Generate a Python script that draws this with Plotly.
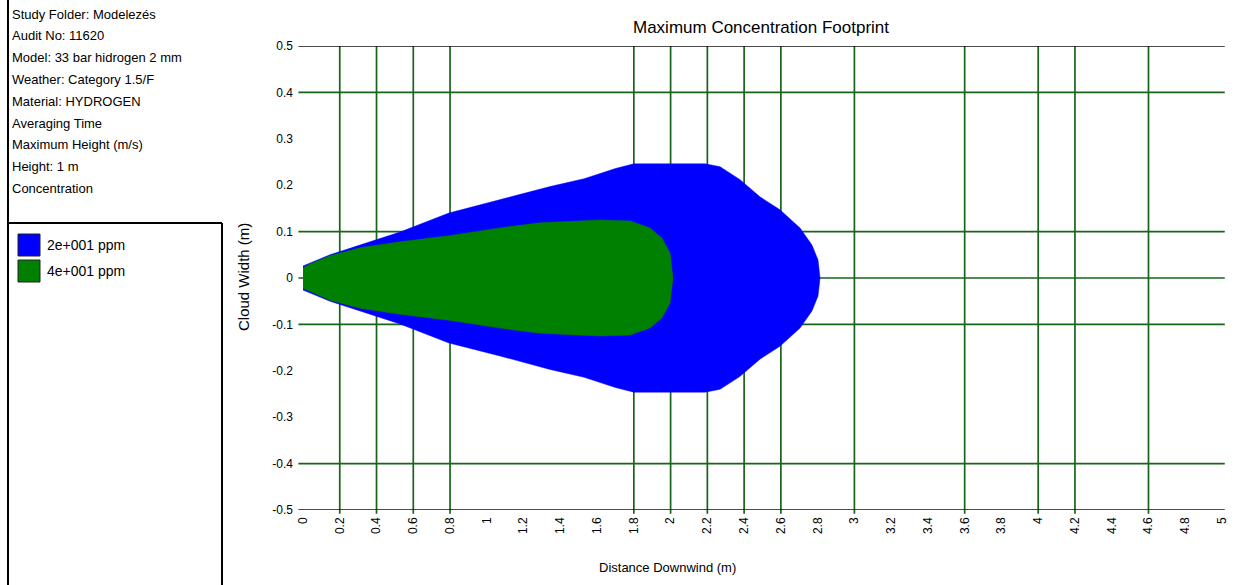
import plotly.graph_objects as go

# ---------------- data ----------------
info_lines = [
    "Study Folder: Modelezés",
    "Audit No: 11620",
    "Model: 33 bar hidrogen 2 mm",
    "Weather: Category 1.5/F",
    "Material: HYDROGEN",
    "Averaging Time",
    "Maximum Height (m/s)",
    "Height: 1 m",
    "Concentration",
]
legend_labels = ["2e+001 ppm", "4e+001 ppm"]
zone_colors = ["#0000FF", "#008000"]

# outer zone (2e+001 ppm): downwind distance and half cloud width
blue_x = [0.0, 0.147, 0.31, 0.528, 0.794, 1.072, 1.344, 1.53, 1.70, 1.80, 2.187,
          2.269, 2.378, 2.486, 2.595, 2.704, 2.769, 2.802, 2.813]
blue_hw = [0.026, 0.050, 0.071, 0.099, 0.140, 0.168, 0.197, 0.214, 0.236, 0.246, 0.246,
           0.240, 0.212, 0.175, 0.147, 0.108, 0.071, 0.039, 0.0]
# inner zone (4e+001 ppm)
green_x = [0.0, 0.038, 0.147, 0.31, 0.528, 0.794, 1.072, 1.29, 1.616, 1.78, 1.888,
           1.953, 1.997, 2.013]
green_hw = [0.022, 0.030, 0.048, 0.065, 0.078, 0.091, 0.108, 0.119, 0.125, 0.123, 0.108,
            0.086, 0.054, 0.0]

x_ticks = [0, 0.2, 0.4, 0.6, 0.8, 1, 1.2, 1.4, 1.6, 1.8, 2, 2.2, 2.4, 2.6, 2.8, 3,
           3.2, 3.4, 3.6, 3.8, 4, 4.2, 4.4, 4.6, 4.8, 5]
y_ticks = [0.5, 0.4, 0.3, 0.2, 0.1, 0, -0.1, -0.2, -0.3, -0.4, -0.5]
x_grid = [0.2, 0.4, 0.6, 0.8, 1.8, 2.0, 2.2, 2.4, 2.6, 3.0, 3.6, 4.0, 4.2, 4.6]
y_grid = [0.4, 0.1, 0, -0.1, -0.4]
y_frame = [0.5, -0.5]

# ---------------- figure ----------------
W, H = 1241, 585
L, R, T, B = 303, 19, 46, 75
pw, ph = W - L - R, H - T - B


def px(xp):
    return (xp - L) / pw


def py(yp):
    return (H - B - yp) / ph


FAM = "Liberation Sans, Arial, sans-serif"

fig = go.Figure()
for xs, hw, col, name in [(blue_x, blue_hw, zone_colors[0], legend_labels[0]),
                          (green_x, green_hw, zone_colors[1], legend_labels[1])]:
    xx = list(xs) + list(reversed(xs))
    yy = list(hw) + [-v for v in reversed(hw)]
    fig.add_trace(go.Scatter(x=xx, y=yy, fill="toself", fillcolor=col, mode="lines",
                             line=dict(width=0.5, color=col), name=name,
                             showlegend=False, hoverinfo="skip"))

shapes = []
grid_col = "#17641a"
for gx in x_grid:
    shapes.append(dict(type="line", xref="x", yref="paper", x0=gx, x1=gx,
                       y0=-0.008, y1=1, layer="below",
                       line=dict(color=grid_col, width=1.7)))
for gy in y_grid:
    shapes.append(dict(type="line", xref="paper", yref="y", x0=-0.005, x1=1.003,
                       y0=gy, y1=gy, layer="below",
                       line=dict(color=grid_col, width=1.7)))
for gy in y_frame:
    shapes.append(dict(type="line", xref="paper", yref="y", x0=-0.005, x1=1.003,
                       y0=gy, y1=gy, layer="above",
                       line=dict(color="#111111", width=1.7)))

# left panel frame
shapes.append(dict(type="line", xref="paper", yref="paper", x0=px(8), x1=px(8),
                   y0=py(0), y1=py(585), line=dict(color="black", width=2)))
shapes.append(dict(type="line", xref="paper", yref="paper", x0=px(8), x1=px(222),
                   y0=py(223), y1=py(223), line=dict(color="black", width=2)))
shapes.append(dict(type="line", xref="paper", yref="paper", x0=px(222), x1=px(222),
                   y0=py(223), y1=py(585), line=dict(color="black", width=2)))

annotations = []
font = dict(family=FAM, size=13, color="black")
for i, t in enumerate(info_lines):
    annotations.append(dict(text=t, xref="paper", yref="paper", x=px(10),
                            y=py(14 + i * 21.8), xanchor="left", yanchor="middle",
                            showarrow=False, font=font))
for i, (lab, col) in enumerate(zip(legend_labels, zone_colors)):
    y0 = 234 + i * 26
    shapes.append(dict(type="rect", xref="paper", yref="paper", x0=px(18), x1=px(40),
                       y0=py(y0), y1=py(y0 + 22), fillcolor=col,
                       line=dict(color="#222222", width=1)))
    annotations.append(dict(text=lab, xref="paper", yref="paper", x=px(45),
                            y=py(y0 + 11), xanchor="left", yanchor="middle",
                            showarrow=False, font=dict(family=FAM, size=14, color="black")))

annotations.append(dict(text="Maximum Concentration Footprint", xref="paper", yref="paper",
                        x=px(761), y=py(27), xanchor="center", yanchor="middle",
                        showarrow=False, font=dict(family=FAM, size=17, color="black")))
annotations.append(dict(text="Distance Downwind (m)", xref="paper", yref="paper",
                        x=px(667), y=py(567), xanchor="center", yanchor="middle",
                        showarrow=False, font=font))
annotations.append(dict(text="Cloud Width (m)", xref="paper", yref="paper",
                        x=px(243), y=py(277), xanchor="center", yanchor="middle",
                        textangle=-90, showarrow=False,
                        font=dict(family=FAM, size=15, color="black")))

fig.update_layout(
    width=W, height=H,
    margin=dict(l=L, r=R, t=T, b=B, pad=0),
    paper_bgcolor="white", plot_bgcolor="white",
    shapes=shapes, annotations=annotations, showlegend=False,
    xaxis=dict(range=[0, 5], tickvals=x_ticks, ticktext=[f"{v:g}" for v in x_ticks],
               tickangle=-90, showgrid=False, zeroline=False, showline=False,
               ticks="", ticklabelstandoff=4, fixedrange=True,
               tickfont=dict(family=FAM, size=12, color="black")),
    yaxis=dict(range=[-0.5, 0.5], tickvals=y_ticks, ticktext=[f"{v:g}" for v in y_ticks],
               showgrid=False, zeroline=False, showline=False, ticks="",
               ticklabelstandoff=9, fixedrange=True,
               tickfont=dict(family=FAM, size=12, color="black")),
)

fig.write_html("out.html", config={"displayModeBar": False},
               post_script="document.body.style.margin='0px';"
                           "document.body.style.overflow='hidden';")
